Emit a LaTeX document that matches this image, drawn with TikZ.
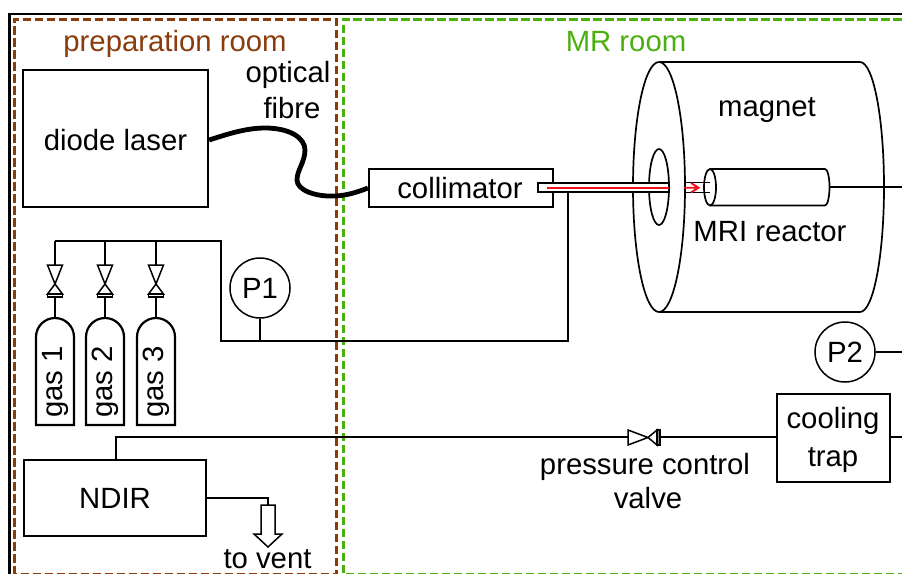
\documentclass[tikz,border=0pt]{standalone}
\usepackage{fontspec}
\setmainfont{Liberation Sans}
\usetikzlibrary{calc}
\definecolor{roombrown}{HTML}{8A3C0C}
\definecolor{roomgreen}{HTML}{4CAF10}
\definecolor{beamred}{HTML}{F01018}
\tikzset{
  x=1pt,y=-1pt,
  lab/.style={inner sep=0pt,anchor=base,font=\fontsize{29.3}{30}\selectfont},
  boxed/.style={draw,line width=2.2pt,inner sep=0pt,fill=white},
  pipe/.style={line width=1.5pt},
  shell/.style={line width=1.7pt},
  room/.style={line width=3pt,dash pattern=on 8.5pt off 3.5pt},
  gauge/.style={draw,line width=1.5pt,circle,minimum size=60pt,inner sep=0pt,fill=white,font=\fontsize{29.3}{30}\selectfont},
  bottle/.style={line width=2.2pt,fill=white},
  pics/vvalve/.style={code={
    \draw[pipe,fill=white] (-7.5,-16) -- (7.5,-16) -- (0,3) -- cycle;
    \draw[pipe,fill=white] (-7.5,13) -- (7.5,13) -- (0,3) -- cycle;
    \draw[line width=1.5pt,fill=white] (-7.5,13) rectangle (7.5,16);
  }},
  pics/hvalve/.style={code={
    \draw[pipe,fill=white] (-17,-7.5) -- (-17,7.5) -- (3,0) -- cycle;
    \draw[pipe,fill=white] (12,-7.5) -- (12,7.5) -- (3,0) -- cycle;
    \draw[line width=1.5pt,fill=black!45] (12,-7.5) rectangle (15,7.5);
  }},
}
\begin{document}
\begin{tikzpicture}
\useasboundingbox (0,0) rectangle (902,573);
% frame and rooms
\draw[line width=2.4pt] (9.5,575) -- (9.5,14) -- (902,14);
\draw[room,roombrown] (14,574.5) -- (14,19) -- (336,19) -- (336,574.5) -- cycle;
\draw[room,roomgreen] (906,574) -- (343,574) -- (343,19) -- (906,19);
\node[lab,roombrown] (prep) at (175,51) {preparation room};
\node[lab,roomgreen] (mr) at (626,51) {MR room};

% boxes
\node[boxed,minimum width=185pt,minimum height=137pt] (laser) at (115.5,138.5) {};
\node[lab] at (115.5,150) {diode laser};
\node[boxed,minimum width=184pt,minimum height=38pt] (coll) at (461,188) {};
\node[lab] at (460,198) {collimator};
\node[boxed,minimum width=182pt,minimum height=76pt] (ndir) at (115,498) {};
\node[lab] at (115,508) {NDIR};
\node[boxed,minimum width=113pt,minimum height=88pt] (trap) at (833.5,438) {};
\node[lab] at (833,428) {cooling};
\node[lab] at (833,466) {trap};

% junctions
\coordinate (c1) at (55,241);
\coordinate (c2) at (105,241);
\coordinate (c3) at (156,241);
\coordinate (c4) at (221,241);
\coordinate (c5) at (221,341);
\coordinate (c6) at (260,341);
\coordinate (c7) at (568,341);
\coordinate (c8) at (568,192);
\coordinate (e1) at (829.5,187);
\coordinate (e2) at (902.6,187);
\coordinate (e3) at (902.6,352);
\coordinate (e4) at (902.6,437);
\coordinate (n1) at (116,437);
\coordinate (n2) at (268,498);
\coordinate (n3) at (268,505);

% magnet
\draw[shell] (660,62) -- (860,62) .. controls (873.25,62) and (884,118) .. (884,187)
  .. controls (884,256) and (873.25,312) .. (860,312) -- (660,312);
\draw[shell,fill=white] (659,187) ellipse[x radius=26,y radius=125];
\draw[shell] (659,187) ellipse[x radius=10,y radius=38];
\node[lab] at (767,116) {magnet};
\node[lab] at (770,241) {MRI reactor};

% reactor
\draw[shell] (710,169) -- (825,169) .. controls (827.5,169) and (829.5,177) .. (829.5,187)
  .. controls (829.5,197) and (827.5,205.5) .. (825,205.5) -- (710,205.5);
\draw[shell,fill=white] (710,187.25) ellipse[x radius=6,y radius=18.25];
\draw[pipe] (684,182.5) -- (710,182.5) (684,192.5) -- (710,192.5);

% tube and beam
\draw[line width=1.5pt,fill=white] (538,183) rectangle (669,192);
\draw[line width=1.9pt,beamred] (547,187.7) -- (669,187.7);
\draw[line width=1.9pt,beamred] (684,187.7) -- (698,187.7) (691,183) -- (698.5,187.7) -- (691,192.5);

% fibre
\draw[line width=4.8pt] (laser.east) ++(0,1.5)
  .. controls (225,135) and (245,128) .. (265,128)
  .. controls (290,128) and (305,138) .. (305,150)
  .. controls (305,162) and (297,170) .. (297,180)
  .. controls (297,190) and (315,197) .. (335,196)
  .. controls (347,195.5) and (358,192) .. (coll.west);

% gas lines
\draw[pipe] (c1) -- (c4) -- (c5) -- (c7) -- (c8);
\foreach \n/\x/\c in {1/55/c1,2/105/c2,3/156/c3}{
  \draw[pipe] (\c) -- (\x,318);
  \pic at (\x,281) {vvalve};
  \draw[bottle] (\x-19,337) .. controls (\x-19,326.5) and (\x-10.5,318) .. (\x,318)
     .. controls (\x+10.5,318) and (\x+19,326.5) .. (\x+19,337) -- (\x+19,425)
     -- (\x-19,425) -- cycle;
  \node[lab,rotate=90,anchor=center] at (\x,382) {gas \n};
}
% gauges
\node[gauge] (p1) at (260,288) {P1};
\node[gauge] (p2) at (845,352) {P2};
\draw[pipe] (p1.south) -- (c6);
% reactor outlet
\draw[pipe] (e1) -- (e2) -- (e4) -- (trap.east |- e4);
\draw[pipe] (p2.east) -- (e3);
% return
\draw[pipe] (trap.west |- n1) -- (660,437) (628,437) -- (n1) -- (n1 |- ndir.north);
\pic at (645,437.5) {hvalve};
\node[lab] at (645,474) {pressure control};
\node[lab] at (648,508) {valve};
% vent
\draw[pipe] (ndir.east) -- (n2) -- (n3);
\draw[pipe,fill=white] (261,505) -- (275,505) -- (275,534) -- (282,534) -- (268,547) -- (254,534) -- (261,534) -- cycle;
\node[lab] at (267.5,568) {to vent};
% fibre labels
\node[lab] at (288,82) {optical};
\node[lab] at (292,118) {fibre};
\end{tikzpicture}
\end{document}
